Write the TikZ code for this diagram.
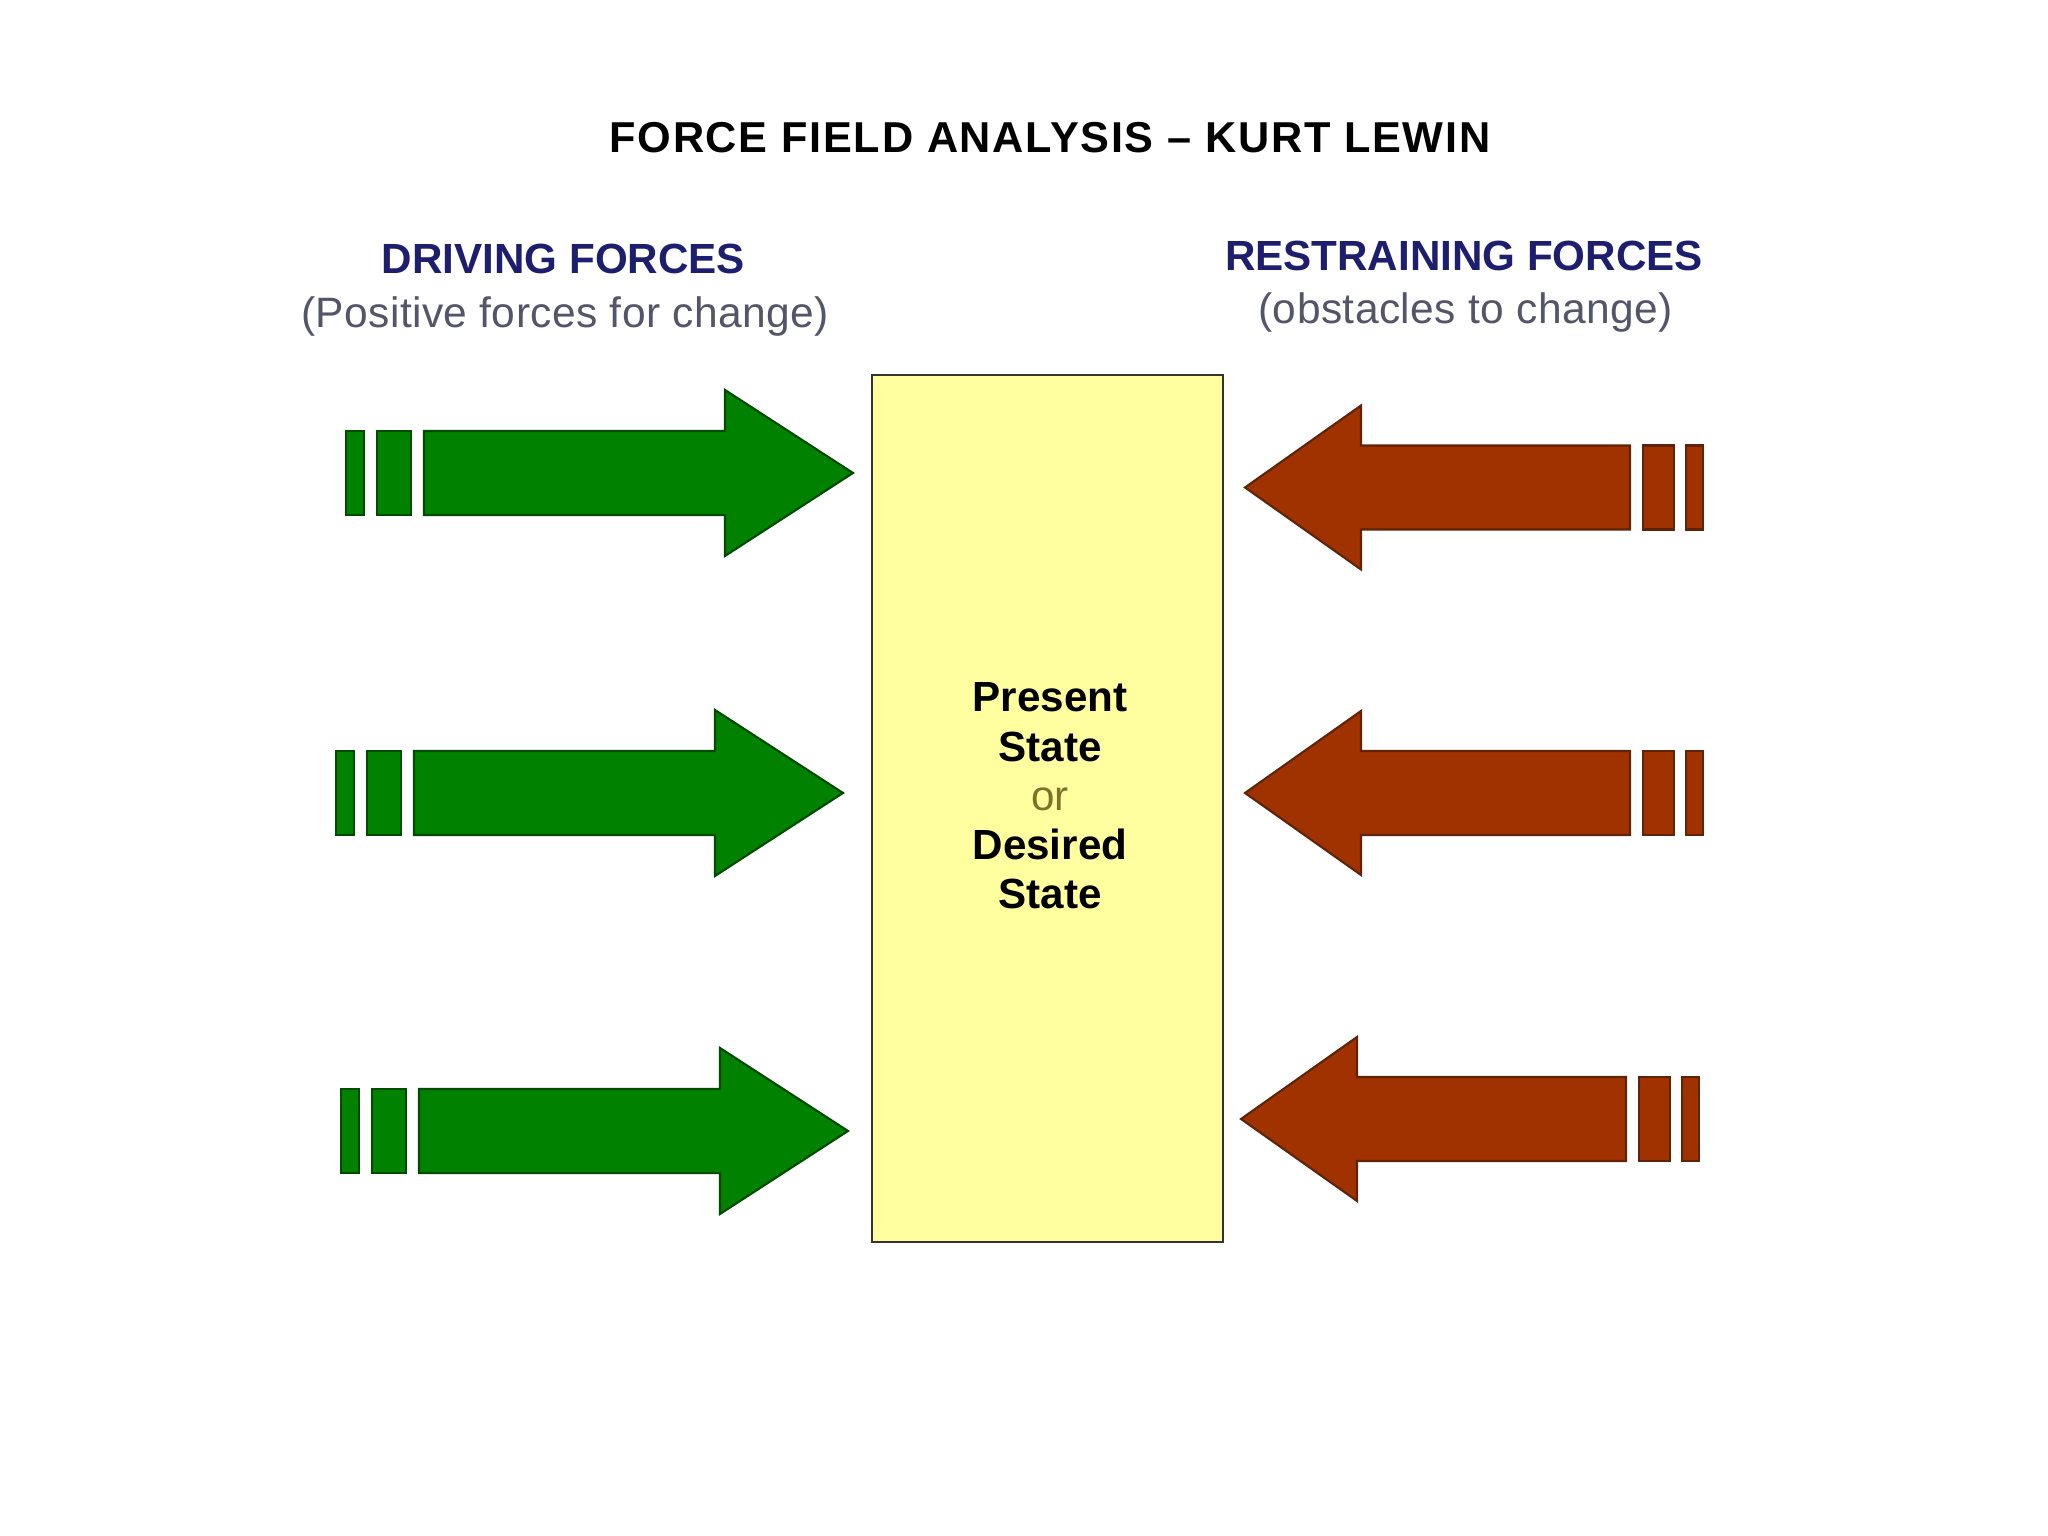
\documentclass[tikz,border=0pt]{standalone}
\usepackage{fontspec}
\setmainfont{Liberation Sans}
\usepackage{tikz}
\usetikzlibrary{positioning}
\definecolor{drivegreen}{RGB}{0,130,0}
\definecolor{drivedark}{RGB}{0,75,0}
\definecolor{restrainred}{RGB}{160,50,0}
\definecolor{restraindark}{RGB}{95,35,10}
\definecolor{stateyellow}{RGB}{255,255,160}
\definecolor{headnavy}{RGB}{30,30,110}
\definecolor{subgray}{RGB}{85,85,105}
\definecolor{orolive}{RGB}{125,115,40}

\begin{document}
\begin{tikzpicture}[
  every node/.style={inner sep=0pt,outer sep=0pt},
  titleline/.style={font=\fontsize{12.3}{14}\selectfont\bfseries\addfontfeature{LetterSpace=4}},
  headline/.style={font=\fontsize{12}{14}\selectfont\bfseries,text=headnavy},
  subline/.style={font=\fontsize{12.1}{14}\selectfont\addfontfeature{LetterSpace=1},text=subgray},
  greenarrow/.style={fill=drivegreen,draw=drivedark,line width=.6pt},
  redarrow/.style={fill=restrainred,draw=restraindark,line width=.6pt},
  statebox/.style={draw=black!80,fill=stateyellow,line width=.8pt,
    minimum width=3.51cm,minimum height=8.67cm},
  statetext/.style={align=center,font=\fontsize{12}{14}\selectfont\bfseries}
]
\useasboundingbox (0,0) rectangle (20.48,15.36);

% 見出し
\node[titleline] (title) at (10.50,13.98) {FORCE FIELD ANALYSIS \textendash{} KURT LEWIN};
\node[headline] (drive) at (5.635,12.77) {DRIVING FORCES};
\node[subline] (drivesub) at (5.65,12.19) {(Positive forces for change)};
\node[headline] (restrain) at (14.64,12.80) {RESTRAINING FORCES};
\node[subline] (restrainsub) at (14.655,12.23) {(obstacles to change)};

% 中央の状態
\node[statebox] (state) at (10.475,7.275) {};
\node[statetext] (statelbl) at (10.50,7.40)
  {Present\\State\\{\mdseries\color{orolive}or}\\Desired\\State};

% 推進力（左）
\foreach \x/\y in {3.46/10.63,3.36/7.43,3.41/4.05}{
  \draw[greenarrow] (\x,\y-.42) rectangle (\x+.18,\y+.42);
  \draw[greenarrow] (\x+.31,\y-.42) rectangle (\x+.65,\y+.42);
  \draw[greenarrow]
    (\x+.78,\y-.42) -- (\x+3.79,\y-.42) -- (\x+3.79,\y-.83)
    -- (\x+5.07,\y) -- (\x+3.79,\y+.83) -- (\x+3.79,\y+.42)
    -- (\x+.78,\y+.42) -- cycle;
}

% 抑止力（右）
\foreach \x/\y in {12.45/10.485,12.45/7.43,12.41/4.17}{
  \draw[redarrow]
    (\x,\y) -- (\x+1.16,\y+.82) -- (\x+1.16,\y+.42)
    -- (\x+3.85,\y+.42) -- (\x+3.85,\y-.42) -- (\x+1.16,\y-.42)
    -- (\x+1.16,\y-.82) -- cycle;
  \draw[redarrow] (\x+3.98,\y-.42) rectangle (\x+4.29,\y+.42);
  \draw[redarrow] (\x+4.41,\y-.42) rectangle (\x+4.58,\y+.42);
}

\end{tikzpicture}
\end{document}
